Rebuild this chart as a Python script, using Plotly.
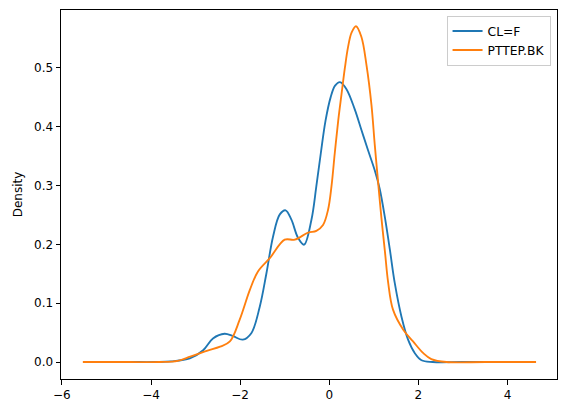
import plotly.graph_objects as go

# densité (KDE)
cl_x = [-5.25, -4.5, -3.9, -3.55, -3.13, -2.83, -2.61, -2.35, -2.16, -1.94, -1.75, -1.56, -1.41,
        -1.26, -1.11, -0.98, -0.85, -0.70, -0.566, -0.40, -0.29, -0.19, -0.085, 0.03, 0.13, 0.24,
        0.386, 0.57, 0.72, 0.87, 1.02, 1.13, 1.25, 1.36, 1.47, 1.62, 1.77, 1.92, 2.07,
        2.32, 3.0, 4.01]
cl_y = [0, 0, 0, 0.001, 0.006, 0.02, 0.04, 0.048, 0.044, 0.038, 0.049, 0.094, 0.151,
        0.214, 0.251, 0.258, 0.242, 0.211, 0.1995, 0.242, 0.299, 0.355, 0.41, 0.45, 0.47, 0.476,
        0.464, 0.43, 0.395, 0.36, 0.326, 0.295, 0.245, 0.191, 0.134, 0.077, 0.0375, 0.015, 0.003,
        0.0, 0, 0]

pttep_x = [-5.53, -4.5, -3.8, -3.4, -3.12, -2.75, -2.45, -2.23, -2.01, -1.78, -1.60, -1.33,
           -1.00, -0.775, -0.476, -0.29, -0.14, -0.027, 0.05, 0.123, 0.2, 0.274, 0.35, 0.42,
           0.50, 0.60, 0.72, 0.835, 0.947, 1.02, 1.10, 1.17, 1.25, 1.32, 1.43, 1.66, 1.88,
           2.11, 2.29, 2.63, 3.5, 4.64]
pttep_y = [0, 0, 0, 0.002, 0.009, 0.019, 0.026, 0.035, 0.072, 0.123, 0.154, 0.177,
           0.208, 0.208, 0.22, 0.223, 0.233, 0.259, 0.299, 0.355, 0.41, 0.455, 0.50, 0.535,
           0.56, 0.571, 0.553, 0.505, 0.437, 0.37, 0.302, 0.245, 0.187, 0.136, 0.089, 0.055, 0.035,
           0.015, 0.005, 0.0, 0, 0]

x_ticks = [-6, -4, -2, 0, 2, 4]
y_ticks = [0.0, 0.1, 0.2, 0.3, 0.4, 0.5]

fig = go.Figure()
fig.add_trace(go.Scatter(x=cl_x, y=cl_y, name="CL=F", mode="lines",
                         line=dict(color="#1f77b4", width=1.85, shape="spline", smoothing=1.0)))
fig.add_trace(go.Scatter(x=pttep_x, y=pttep_y, name="PTTEP.BK", mode="lines",
                         line=dict(color="#ff7f0e", width=1.85, shape="spline", smoothing=1.0)))

axe = dict(showline=True, mirror=True, linecolor="black", linewidth=1,
           ticks="outside", ticklen=4.5, tickwidth=1, tickcolor="black",
           showgrid=False, zeroline=False, automargin=False,
           tickfont=dict(family="DejaVu Sans", size=12, color="black"))

# la page html ajoute 8 px de marge au body : on réduit la figure d'autant
fig.update_layout(
    width=559, height=405, autosize=False,
    margin=dict(l=53, r=10, t=2, b=34),
    plot_bgcolor="white", paper_bgcolor="white",
    font=dict(family="DejaVu Sans", size=12, color="black"),
    xaxis=dict(axe, range=[-6.02, 5.11], tickvals=x_ticks),
    yaxis=dict(axe, range=[-0.0289, 0.5986], tickvals=y_ticks, tickformat=".1f",
               title=dict(text="Density", standoff=8, font=dict(size=12))),
    legend=dict(x=0.987, y=0.985, xanchor="right", yanchor="top",
                bgcolor="white", bordercolor="#cccccc", borderwidth=1,
                font=dict(size=12.3), tracegroupgap=0, itemwidth=30),
    showlegend=True,
)

fig.write_html("out.html")
